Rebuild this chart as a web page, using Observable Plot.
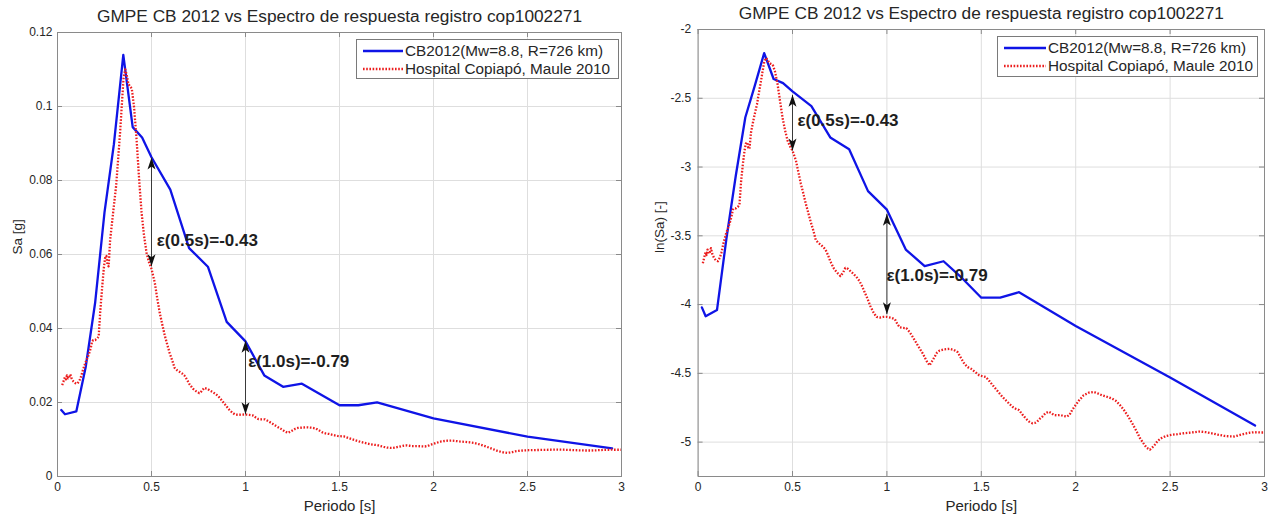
<!DOCTYPE html>
<html>
<head>
<meta charset="utf-8">
<script src="https://cdn.jsdelivr.net/npm/d3@7"></script>
<script src="https://cdn.jsdelivr.net/npm/@observablehq/plot@0.6"></script>
<style>
  body { margin: 0; background: #fff; font-family: "Liberation Sans", Arial, sans-serif; }
  #wrap { position: relative; width: 1273px; height: 517px; overflow: hidden; background: #fff; }
  .panel { position: absolute; top: 0; }
  .legend { position: absolute; border: 1px solid #7a7a7a; background: #fff; box-sizing: border-box;
            font-size: 15.3px; color: #262626; }
  .legend .row { position: absolute; left: 0; height: 18px; display: flex; align-items: center; white-space: nowrap; }
  .legend svg { display: block; }
</style>
</head>
<body>
<div id="wrap"></div>
<script>
// ---------- data ----------
const titleText = "GMPE CB 2012 vs Espectro de respuesta registro cop1002271";
const xLabel = "Periodo [s]";
const yLabelLeft = "Sa [g]";
const yLabelRight = "ln(Sa) [-]";
const seriesNames = ["CB2012(Mw=8.8, R=726 km)", "Hospital Copiapó, Maule 2010"];
const xTicks = [0, 0.5, 1, 1.5, 2, 2.5, 3];
const saTicks = [0, 0.02, 0.04, 0.06, 0.08, 0.1, 0.12];
const lnTicks = [-5, -4.5, -4, -3.5, -3, -2.5, -2];

// CB2012 GMPE spectrum: period [s] and ln(Sa)
const cbPeriod = [0.02, 0.04, 0.10, 0.15, 0.20, 0.25, 0.30, 0.35, 0.40, 0.45, 0.50, 0.60, 0.70, 0.80, 0.90, 1.00,
  1.10, 1.20, 1.30, 1.40, 1.50, 1.60, 1.70, 2.00, 2.50, 2.95];
const cbLnSa = [-4.02, -4.085, -4.04, -3.52, -3.06, -2.64, -2.41, -2.172, -2.36, -2.39, -2.45, -2.557, -2.785, -2.87, -3.175, -3.31,
  -3.60, -3.72, -3.685, -3.81, -3.95, -3.95, -3.91, -4.155, -4.53, -4.88];

// Recorded spectrum (Hospital Copiapó): period [s] and ln(Sa)
const recPeriod = [0.025, 0.032, 0.039, 0.045, 0.05, 0.056, 0.062, 0.068, 0.075, 0.084, 0.095, 0.105, 0.115, 0.123, 0.135,
  0.149, 0.167, 0.177, 0.184, 0.19, 0.20, 0.21, 0.219, 0.228, 0.237, 0.246, 0.253, 0.26, 0.266, 0.272, 0.28, 0.29, 0.298,
  0.312, 0.322, 0.333, 0.342, 0.351, 0.36, 0.368, 0.377, 0.386, 0.395, 0.407, 0.421, 0.434, 0.447, 0.46, 0.474, 0.487,
  0.50, 0.518, 0.53, 0.544, 0.557, 0.57, 0.583, 0.596, 0.61, 0.623, 0.636, 0.649, 0.662, 0.675, 0.688, 0.70, 0.72, 0.737,
  0.754, 0.767, 0.78, 0.794, 0.807, 0.825, 0.842, 0.855, 0.868, 0.882, 0.895, 0.912, 0.93, 0.945, 0.963, 0.98, 0.998,
  1.02, 1.042, 1.055, 1.068, 1.085, 1.103, 1.12, 1.138, 1.165, 1.191, 1.21, 1.226, 1.24, 1.252, 1.265, 1.279, 1.305,
  1.331, 1.355, 1.375, 1.393, 1.41, 1.428, 1.445, 1.467, 1.489, 1.505, 1.524, 1.545, 1.568, 1.59, 1.612, 1.64, 1.665,
  1.685, 1.70, 1.718, 1.735, 1.752, 1.77, 1.785, 1.796, 1.81, 1.823, 1.84, 1.858, 1.872, 1.884, 1.90, 1.919, 1.935,
  1.954, 1.968, 1.981, 2.0, 2.016, 2.042, 2.07, 2.095, 2.115, 2.138, 2.165, 2.191, 2.213, 2.235, 2.257, 2.279, 2.30,
  2.323, 2.34, 2.358, 2.375, 2.393, 2.405, 2.419, 2.435, 2.454, 2.48, 2.507, 2.54, 2.577, 2.615, 2.656, 2.69, 2.717,
  2.75, 2.788, 2.815, 2.84, 2.865, 2.893, 2.92, 2.945, 2.98, 3.0];
const recLnSa = [-3.70, -3.66, -3.62, -3.64, -3.60, -3.63, -3.62, -3.59, -3.63, -3.66, -3.68, -3.685, -3.66, -3.625, -3.55,
  -3.48, -3.41, -3.36, -3.31, -3.30, -3.30, -3.29, -3.276, -3.10, -2.98, -2.88, -2.83, -2.82, -2.86, -2.868, -2.75, -2.68, -2.627,
  -2.543, -2.46, -2.375, -2.30, -2.231, -2.207, -2.22, -2.243, -2.25, -2.255, -2.303, -2.399, -2.52, -2.639, -2.73, -2.808, -2.85,
  -2.88, -2.952, -3.03, -3.12, -3.19, -3.264, -3.33, -3.397, -3.46, -3.529, -3.55, -3.565, -3.58, -3.601, -3.64, -3.685, -3.74, -3.769,
  -3.793, -3.77, -3.733, -3.74, -3.757, -3.78, -3.805, -3.83, -3.865, -3.91, -3.95, -4.01, -4.06, -4.09, -4.094, -4.09, -4.089,
  -4.095, -4.106, -4.14, -4.166, -4.17, -4.171, -4.20, -4.238, -4.30, -4.358, -4.41, -4.442, -4.41, -4.382, -4.35, -4.334, -4.325,
  -4.322, -4.33, -4.346, -4.39, -4.43, -4.455, -4.466, -4.49, -4.514, -4.52, -4.526, -4.56, -4.599, -4.635, -4.671, -4.71, -4.743,
  -4.76, -4.767, -4.80, -4.827, -4.85, -4.863, -4.86, -4.851, -4.83, -4.815, -4.79, -4.779, -4.79, -4.803, -4.805, -4.803, -4.81,
  -4.815, -4.80, -4.767, -4.73, -4.70, -4.659, -4.64, -4.635, -4.645, -4.659, -4.67, -4.683, -4.70, -4.731, -4.77, -4.815, -4.865,
  -4.923, -4.97, -5.007, -5.04, -5.055, -5.04, -5.019, -4.99, -4.971, -4.955, -4.947, -4.942, -4.935, -4.93, -4.923, -4.928, -4.935,
  -4.945, -4.955, -4.958, -4.959, -4.95, -4.94, -4.932, -4.928, -4.93, -4.93];

// epsilon annotations
const epsLabels = ["ε(0.5s)=-0.43", "ε(1.0s)=-0.79"];
const epsPeriod = [0.5, 1.0];
const epsSaTop = [0.0862, 0.0367];
const epsSaBottom = [0.0568, 0.0168];
const epsLabelPeriodLeft = [0.528, 1.014];
const epsLabelSa = [0.0637, 0.031];
const epsLnTop = [-2.475, -3.34];
const epsLnBottom = [-2.88, -4.07];
const epsLabelPeriodRight = [0.526, 0.998];
const epsLabelLn = [-2.66, -3.79];

// ---------- styling ----------
const FONT = "'Liberation Sans', Arial, sans-serif";
const TXT = "#262626";
const BLUE = "#0f14e6";
const RED = "#ec1d1d";
const RED_DASH = "1.6,1.6";
const GRID = "#dedede";
const FRAME = "#8a8a8a";
const H = 517;

const cbData = cbPeriod.map((t, i) => ({t, ln: cbLnSa[i]}));
const recData = recPeriod.map((t, i) => ({t, ln: recLnSa[i]}));

const headUp = {draw(ctx) { ctx.moveTo(0, 0); ctx.lineTo(4, 12); ctx.lineTo(0, 9); ctx.lineTo(-4, 12); ctx.closePath(); }};
const headDown = {draw(ctx) { ctx.moveTo(0, 0); ctx.lineTo(4, -12); ctx.lineTo(0, -9); ctx.lineTo(-4, -12); ctx.closePath(); }};

function panel({width, ml, mr, mt, mb, yDomain, yTicks, yFmt, yLabel, yLabelDx, yPad, yOf, arrows, labels}) {
  const innerW = width - ml - mr;
  const innerH = H - mt - mb;
  return Plot.plot({
    width, height: H,
    marginLeft: ml, marginRight: mr, marginTop: mt, marginBottom: mb,
    style: {fontFamily: FONT, fontSize: "12px", color: TXT, background: "transparent", overflow: "visible"},
    x: {domain: [0, 3]},
    y: {domain: yDomain},
    marks: [
      Plot.gridX(xTicks, {stroke: GRID, strokeOpacity: 1}),
      Plot.gridY(yTicks, {stroke: GRID, strokeOpacity: 1}),
      Plot.ruleX(xTicks, {x: d => d, stroke: FRAME, insetTop: innerH - 5}),
      Plot.ruleX(xTicks, {x: d => d, stroke: FRAME, insetBottom: innerH - 5}),
      Plot.ruleY(yTicks, {y: d => d, stroke: FRAME, insetRight: innerW - 5}),
      Plot.ruleY(yTicks, {y: d => d, stroke: FRAME, insetLeft: innerW - 5}),
      Plot.axisX(xTicks, {tickSize: 0, tickPadding: 6, label: null, fontSize: 12, fill: TXT, tickFormat: d => String(d)}),
      Plot.axisY(yTicks, {tickSize: 0, tickPadding: yPad, label: null, fontSize: 12, fill: TXT, tickFormat: yFmt}),
      Plot.line(cbData, {x: "t", y: yOf, stroke: BLUE, strokeWidth: 2.3}),
      Plot.line(recData, {x: "t", y: yOf, stroke: RED, strokeWidth: 2.3, strokeDasharray: RED_DASH, strokeLinecap: "butt"}),
      Plot.frame({stroke: FRAME}),
      Plot.link(arrows, {x1: "t", x2: "t", y1: "bot", y2: "top", stroke: "#3a3a3a", strokeWidth: 1}),
      Plot.dot(arrows, {x: "t", y: "top", symbol: headUp, fill: "#111", stroke: null}),
      Plot.dot(arrows, {x: "t", y: "bot", symbol: headDown, fill: "#111", stroke: null}),
      Plot.text(labels, {x: "t", y: "v", text: "s", textAnchor: "start", lineAnchor: "middle",
        fontSize: 17, fontWeight: "bold", fill: "#1e1e1e"}),
      Plot.text([titleText], {frameAnchor: "top", dy: -16, lineAnchor: "middle", fontSize: 17.3, fill: TXT}),
      Plot.text([xLabel], {frameAnchor: "bottom", dy: 30, lineAnchor: "middle", fontSize: 15, fill: TXT}),
      Plot.text([yLabel], {frameAnchor: "left", dx: yLabelDx, rotate: -90, lineAnchor: "middle", fontSize: 13.5, fill: TXT})
    ]
  });
}

const leftArrows = epsPeriod.map((t, i) => ({t, top: epsSaTop[i], bot: epsSaBottom[i]}));
const leftLabels = epsLabels.map((s, i) => ({s, t: epsLabelPeriodLeft[i], v: epsLabelSa[i]}));
const rightArrows = epsPeriod.map((t, i) => ({t, top: epsLnTop[i], bot: epsLnBottom[i]}));
const rightLabels = epsLabels.map((s, i) => ({s, t: epsLabelPeriodRight[i], v: epsLabelLn[i]}));

const left = panel({
  width: 636, ml: 57, mr: 15, mt: 32, mb: 41,
  yDomain: [0, 0.12], yTicks: saTicks, yFmt: d => String(d), yLabel: yLabelLeft, yLabelDx: -40, yPad: 5,
  yOf: d => Math.exp(d.ln), arrows: leftArrows, labels: leftLabels
});
const right = panel({
  width: 637, ml: 61.6, mr: 9, mt: 29, mb: 41,
  yDomain: [-5.25, -2], yTicks: lnTicks, yFmt: d => String(d), yLabel: yLabelRight, yLabelDx: -38, yPad: 7,
  yOf: "ln", arrows: rightArrows, labels: rightLabels
});

const wrap = document.getElementById("wrap");
left.classList.add("panel"); left.style.left = "0px";
right.classList.add("panel"); right.style.left = "636px";
wrap.appendChild(left);
wrap.appendChild(right);

function legend(x, y, w, h, textLeft) {
  const box = document.createElement("div");
  box.className = "legend";
  Object.assign(box.style, {left: x + "px", top: y + "px", width: w + "px", height: h + "px"});
  const styles = [{stroke: BLUE, dash: null, sw: 2.3}, {stroke: RED, dash: RED_DASH, sw: 2.3}];
  seriesNames.forEach((name, i) => {
    const row = document.createElement("div");
    row.className = "row";
    row.style.top = (2 + i * 18.3) + "px";
    const lineW = textLeft - 8;
    row.innerHTML = `<svg width="${textLeft}" height="18"><line x1="6" x2="${lineW + 6}" y1="9" y2="9" stroke="${styles[i].stroke}" stroke-width="${styles[i].sw}" ${styles[i].dash ? `stroke-dasharray="${styles[i].dash}"` : ""}/></svg><span>${name}</span>`;
    box.appendChild(row);
  });
  wrap.appendChild(box);
}
legend(356, 39, 263, 40, 48);
legend(997, 36, 261, 41, 50);
</script>
</body>
</html>
